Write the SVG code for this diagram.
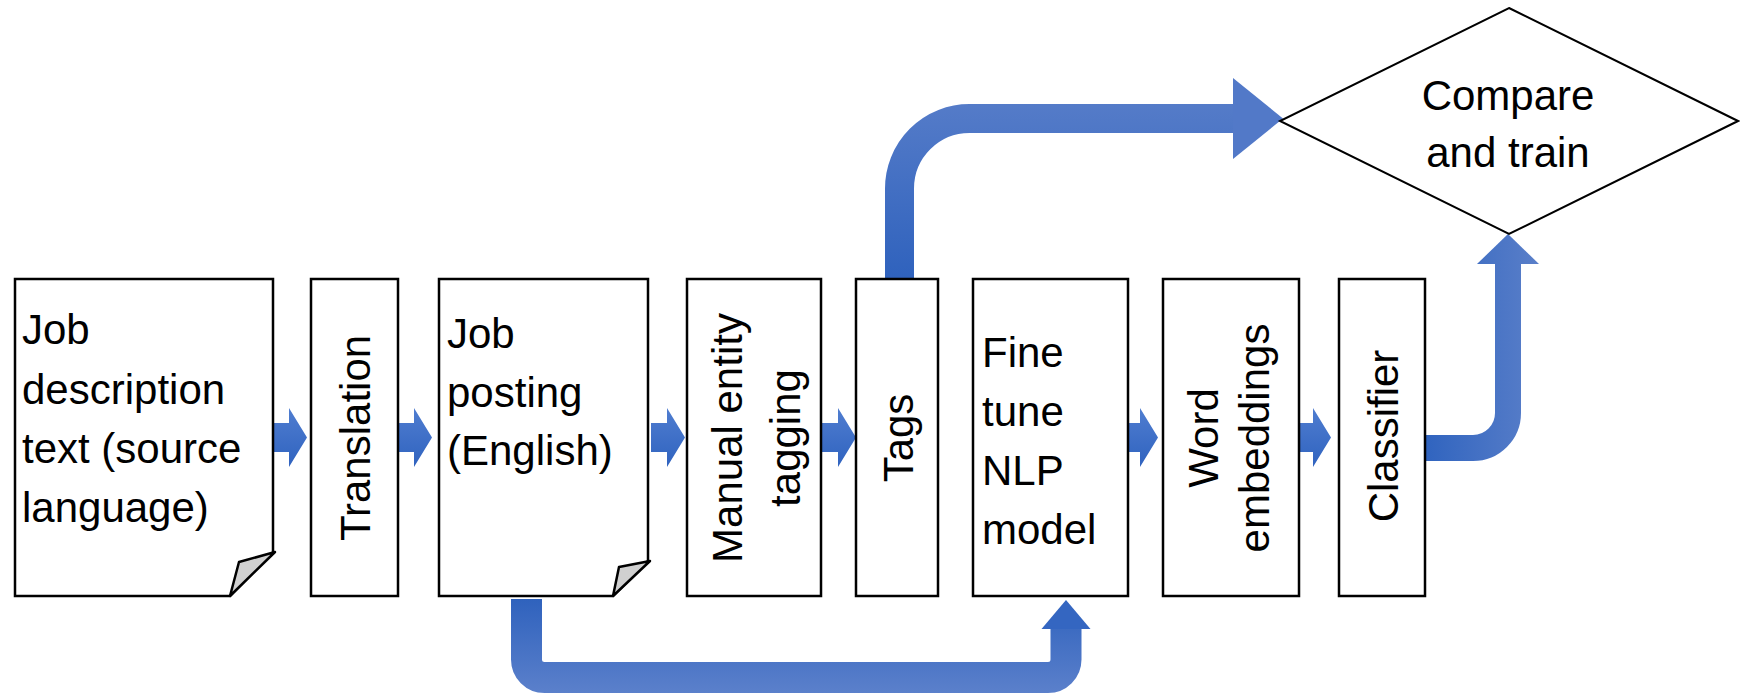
<svg xmlns="http://www.w3.org/2000/svg" width="1740" height="694" viewBox="0 0 1740 694">
  <style>
    .box { fill: #ffffff; stroke: #000000; stroke-width: 2.5; }
    .fold { fill: #d0d0d0; stroke: #000000; stroke-width: 2.5; stroke-linejoin: round; }
    .diamond { fill: #ffffff; stroke: #000000; stroke-width: 2; }
    .lbl { font-family: "Liberation Sans", Arial, sans-serif; font-size: 42px; fill: #000000; }
    .mid { text-anchor: middle; }
  </style>
  <defs>
    <linearGradient id="gSmall" x1="0" y1="0" x2="0" y2="1">
      <stop offset="0" stop-color="#4f7dd0"/>
      <stop offset="1" stop-color="#3063bf"/>
    </linearGradient>
    <linearGradient id="gUp" gradientUnits="userSpaceOnUse" x1="0" y1="279" x2="0" y2="78">
      <stop offset="0" stop-color="#2f62bd"/>
      <stop offset="1" stop-color="#5a7fca"/>
    </linearGradient>
    <linearGradient id="gDown" gradientUnits="userSpaceOnUse" x1="0" y1="599" x2="0" y2="693">
      <stop offset="0" stop-color="#2f62bd"/>
      <stop offset="1" stop-color="#5b80cb"/>
    </linearGradient>
    <linearGradient id="gRight" gradientUnits="userSpaceOnUse" x1="1425" y1="0" x2="1539" y2="0">
      <stop offset="0" stop-color="#3064bf"/>
      <stop offset="1" stop-color="#5a7fc9"/>
    </linearGradient>
    <polygon id="step" points="0,-14.5 16,-14.5 16,-29.5 34,0 16,29.5 16,14.5 0,14.5"/>
  </defs>

  <!-- connectors -->
  <g id="connectors">
    <use href="#step" x="273" y="437.5" fill="url(#gSmall)"/>
    <use href="#step" x="398" y="437.5" fill="url(#gSmall)"/>
    <use href="#step" x="651" y="437.5" fill="url(#gSmall)"/>
    <use href="#step" x="822" y="437.5" fill="url(#gSmall)"/>
    <use href="#step" x="1124" y="437.5" fill="url(#gSmall)"/>
    <use href="#step" x="1297" y="437.5" fill="url(#gSmall)"/>

    <!-- tags up to compare -->
    <path d="M 899.5 279 V 188.5 A 70 70 0 0 1 969.5 118.5 H 1234" fill="none" stroke="url(#gUp)" stroke-width="29"/>
    <polygon points="1233,78 1283,118.5 1233,159" fill="#5279c8"/>

    <!-- classifier up to compare -->
    <path d="M 1425 448 H 1473 A 35 35 0 0 0 1508 413 V 263" fill="none" stroke="url(#gRight)" stroke-width="26"/>
    <polygon points="1477,264 1508,234 1539,264" fill="url(#gRight)"/>

    <!-- english posting down and over to fine tune -->
    <path d="M 526.5 599 V 659.5 A 18 18 0 0 0 544.5 677.5 H 1048 A 18 18 0 0 0 1066 659.5 V 628" fill="none" stroke="url(#gDown)" stroke-width="31"/>
    <polygon points="1041.5,629 1066,600 1090.5,629" fill="#3466c1"/>
  </g>

  <g id="source-doc">
    <path class="box" d="M 15 279 H 273 V 552 L 230 596 H 15 Z"/>
    <polygon class="fold" points="230,596 239,562 275,552"/>
    <text class="lbl" x="22" y="344">Job</text>
    <text class="lbl" x="22" y="403.5">description</text>
    <text class="lbl" x="22" y="462.5">text (source</text>
    <text class="lbl" x="22" y="521.5">language)</text>
  </g>

  <g id="translation">
    <rect class="box" x="311" y="279" width="87" height="317"/>
    <text class="lbl mid" transform="translate(370 438) rotate(-90)">Translation</text>
  </g>

  <g id="english-doc">
    <path class="box" d="M 439 279 H 648 V 561 L 613 596 H 439 Z"/>
    <polygon class="fold" points="613,596 619,567 650,561"/>
    <text class="lbl" x="447" y="348">Job</text>
    <text class="lbl" x="447" y="406.5">posting</text>
    <text class="lbl" x="447" y="465">(English)</text>
  </g>

  <g id="manual-tagging">
    <rect class="box" x="687" y="279" width="134" height="317"/>
    <text class="lbl mid" transform="translate(742 438) rotate(-90)">Manual entity</text>
    <text class="lbl mid" transform="translate(800 438) rotate(-90)">tagging</text>
  </g>

  <g id="tags">
    <rect class="box" x="856" y="279" width="82" height="317"/>
    <text class="lbl mid" transform="translate(913 438) rotate(-90)">Tags</text>
  </g>

  <g id="fine-tune">
    <rect class="box" x="973" y="279" width="155" height="317"/>
    <text class="lbl" x="982" y="367">Fine</text>
    <text class="lbl" x="982" y="426">tune</text>
    <text class="lbl" x="982" y="484.5">NLP</text>
    <text class="lbl" x="982" y="543.5">model</text>
  </g>

  <g id="word-embeddings">
    <rect class="box" x="1163" y="279" width="136" height="317"/>
    <text class="lbl mid" transform="translate(1218 438) rotate(-90)">Word</text>
    <text class="lbl mid" transform="translate(1269 438) rotate(-90)">embeddings</text>
  </g>

  <g id="classifier">
    <rect class="box" x="1339" y="279" width="86" height="317"/>
    <text class="lbl mid" transform="translate(1398 436) rotate(-90)">Classifier</text>
  </g>

  <g id="compare-train">
    <polygon class="diamond" points="1509,8 1738,121 1509,234 1280,121"/>
    <text class="lbl mid" x="1508" y="110">Compare</text>
    <text class="lbl mid" x="1508" y="167">and train</text>
  </g>
</svg>
